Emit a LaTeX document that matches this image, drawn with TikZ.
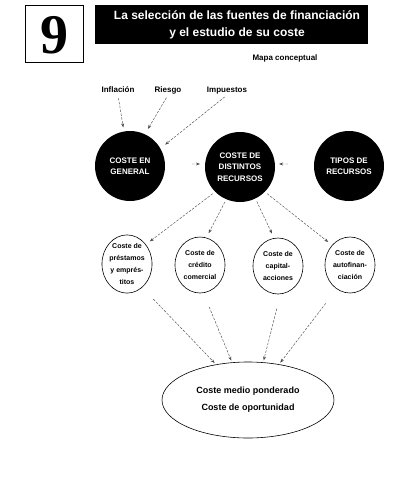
\documentclass[tikz,border=0pt]{standalone}
\usepackage{fontspec}
\setmainfont{Liberation Sans}
\newfontfamily\numfont{Liberation Serif}
\usetikzlibrary{arrows.meta,shapes.geometric}
\begin{document}
\begin{tikzpicture}[x=1pt,y=-1pt,
  bigc/.style={circle,fill=black,minimum size=70pt,inner sep=0pt,text=white,
    font=\bfseries\fontsize{8}{11.5}\selectfont,align=center},
  smallc/.style={ellipse,draw=black,line width=0.6pt,minimum width=50pt,minimum height=56pt,
    inner sep=0pt,font=\bfseries\fontsize{7}{12}\selectfont,align=center},
  lbl/.style={font=\bfseries\fontsize{8}{9}\selectfont,inner sep=1pt,text height=6pt,text depth=1.7pt},
  arr/.style={draw=black!70,line width=0.45pt,dash pattern=on 2.5pt off 1.4pt,
    -{Stealth[length=4pt,width=3pt]}}]
\useasboundingbox (0,0) rectangle (410,480);
% header
\node[draw,line width=0.5pt,minimum width=58pt,minimum height=57pt,inner sep=0pt] (numbox) at (54,33.5) {};
\node[font=\numfont\bfseries\fontsize{56}{56}\selectfont,inner sep=0pt] (num) at (54,35) {9};
\node[fill=black,minimum width=273pt,minimum height=39pt,inner sep=0pt] (bar) at (231.5,24.5) {};
\node[text=white,font=\bfseries\fontsize{12}{17}\selectfont,align=center,inner sep=0pt] (title) at (237,24.5)
  {La selección de las fuentes de financiación\\y el estudio de su coste};
\node[font=\bfseries\fontsize{8}{9}\selectfont,inner sep=0pt] (mapa) at (285,58) {Mapa conceptual};
% top labels
\node[lbl] (infl) at (118,90) {Inflación};
\node[lbl] (ries) at (168,90) {Riesgo};
\node[lbl] (imp) at (227,90) {Impuestos};
% big circles
\node[bigc] (gen) at (130,166) {COSTE EN\\GENERAL};
\node[bigc] (dist) at (240,167) {COSTE DE\\DISTINTOS\\RECURSOS};
\node[bigc] (tipos) at (349,166) {TIPOS DE\\RECURSOS};
% small circles
\node[smallc] (c1) at (127,264) {Coste de\\préstamos\\y emprés-\\titos};
\node[smallc] (c2) at (200,265) {Coste de\\crédito\\comercial};
\node[smallc] (c3) at (278,266) {Coste de\\capital-\\acciones};
\node[smallc] (c4) at (350,265) {Coste de\\autofinan-\\ciación};
% ellipse
\node[ellipse,draw=black,line width=0.6pt,minimum width=172pt,minimum height=76pt,inner sep=0pt,
  font=\bfseries\fontsize{9}{17}\selectfont,align=center] (ell) at (248,400)
  {Coste medio ponderado\\Coste de oportunidad};
% connectors
\draw[arr,shorten <=3pt,shorten >=4pt] (infl.south) -- (gen.100);
\draw[arr,shorten <=3pt,shorten >=6pt] (ries.south) -- (gen.65);
\draw[arr,shorten <=3pt,shorten >=6pt] (imp.south) -- (gen.30);
\coordinate (gl) at (192,164);
\draw[arr,shorten >=5pt] (gl) -- (dist.175);
\coordinate (tr) at (288,164);
\draw[arr,shorten >=4pt] (tr) -- (dist.5);
\draw[arr,shorten <=3pt,shorten >=5pt] (dist.225) -- (c1.46);
\draw[arr,shorten <=3pt,shorten >=5pt] (dist.247) -- (c2.77);
\draw[arr,shorten <=3pt,shorten >=5pt] (dist.296) -- (c3.98);
\draw[arr,shorten <=3pt,shorten >=5pt] (dist.315) -- (c4.132);
\draw[arr,shorten <=16pt,shorten >=2pt] (c1.303) -- (ell.132);
\draw[arr,shorten <=15pt,shorten >=2pt] (c2.277) -- (ell.113);
\draw[arr,shorten <=15pt,shorten >=2pt] (c3.275) -- (ell.68);
\draw[arr,shorten <=18pt,shorten >=2pt] (c4.241) -- (ell.49);
\end{tikzpicture}
\end{document}
